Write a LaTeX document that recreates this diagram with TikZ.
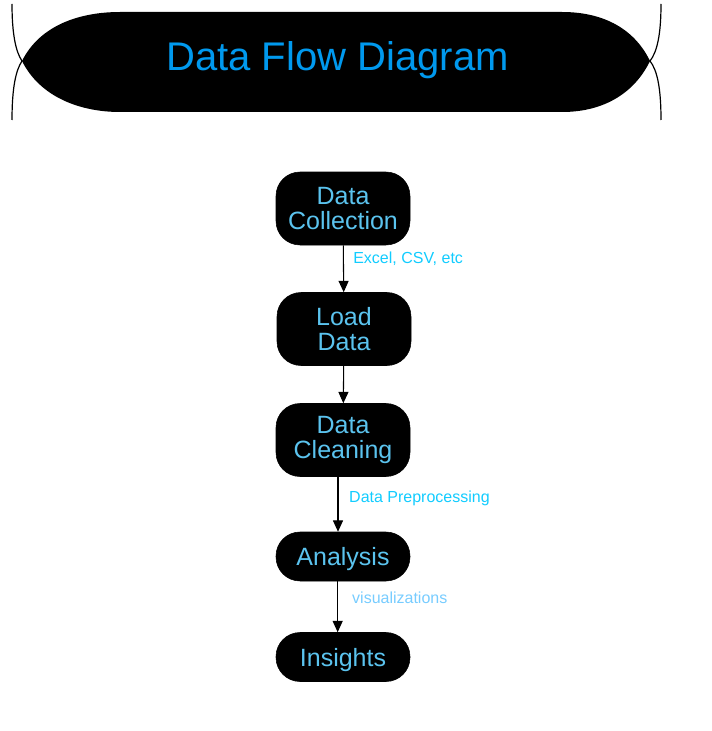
\documentclass[tikz,border=0pt]{standalone}
\usepackage{fontspec}
\setmainfont{Liberation Sans}
\usepackage{xcolor}
\usetikzlibrary{shapes, arrows.meta, positioning}

\definecolor{titleblue}{HTML}{0099EE}
\definecolor{nodeblue}{HTML}{5BC3EE}
\definecolor{edgecyan}{HTML}{11CCFF}
\definecolor{edgesky}{HTML}{77CCFF}

\begin{document}
\begin{tikzpicture}[x=0.75pt, y=-0.75pt,
            stage/.style={draw=black, fill=black, rectangle, rounded corners=18pt,
                minimum width=100.5pt, minimum height=54.75pt, align=center,
                text=nodeblue, font=\fontsize{18.75pt}{18.5pt}\selectfont},
            flat/.style={stage, minimum height=36.75pt, text height=18pt, text depth=4pt},
            flow/.style={-{Triangle[length=8.5pt, width=7.5pt]}, line width=0.8pt},
            lbl/.style={right, inner sep=0pt, font=\fontsize{12pt}{14pt}\selectfont}]
            \useasboundingbox (0,0) rectangle (711,731);

            % title banner
            \fill[black] (22,61) .. controls (40,25) and (80,12) .. (120,12) -- (562,12)
                .. controls (605,12) and (635,30) .. (650,61)
                .. controls (635,92) and (605,112) .. (562,112) -- (120,112)
                .. controls (80,112) and (40,97) .. (22,61) -- cycle;
            \draw[line width=0.9pt] (12,4) .. controls (12,35) and (16,52) .. (22,61)
                .. controls (16,70) and (12,87) .. (12,120);
            \draw[line width=0.9pt] (661,4) .. controls (661,35) and (657,52) .. (650,61)
                .. controls (657,70) and (661,87) .. (661,120);
            \node[text=titleblue, font=\fontsize{30pt}{32pt}\selectfont] (title) at (337.5,60) {Data Flow Diagram};

            \node[stage] (collect) at (343,208.5) {Data\\Collection};
            \node[stage] (load) at (344,329) {Load\\Data};
            \node[stage] (clean) at (343,440) {Data\\Cleaning};
            \node[flat] (analysis) at (343,556.5) {Analysis};
            \node[flat] (insights) at (343,657) {Insights};

            \draw[flow] (collect) -- (load) node[lbl, pos=0.28, xshift=7pt, text=edgecyan] {Excel, CSV, etc};
            \draw[flow] (load) -- (clean);
            \draw[flow] ([xshift=-3.75pt]clean.south) -- ([xshift=-3.75pt]analysis.north)
                node[lbl, pos=0.4, xshift=8pt, text=edgecyan] {Data Preprocessing};
            \draw[flow] ([xshift=-4pt]analysis.south) -- ([xshift=-4pt]insights.north)
                node[lbl, pos=0.33, xshift=10.5pt, text=edgesky] {visualizations};
        \end{tikzpicture}
\end{document}
